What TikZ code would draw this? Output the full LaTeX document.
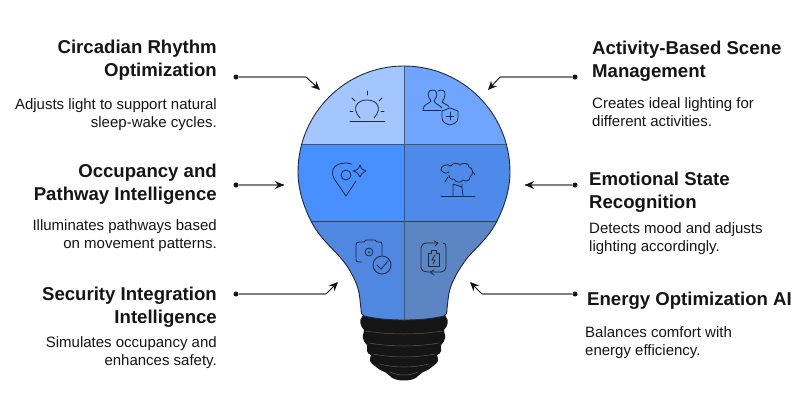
\documentclass[tikz,border=0pt]{standalone}
\usepackage{fontspec}
\setmainfont{Liberation Sans}
\usepackage{tikz}
\usetikzlibrary{arrows.meta,positioning,calc}
\definecolor{inkc}{HTML}{1F2937}
\definecolor{basec}{HTML}{151515}
\definecolor{wirec}{HTML}{808080}
\tikzset{
  headl/.style={align=right,anchor=north east,font=\fontsize{18.6}{23}\selectfont\bfseries,inner sep=0pt,text=basec},
  headr/.style={align=left,anchor=north west,font=\fontsize{18.6}{23}\selectfont\bfseries,inner sep=0pt,text=basec},
  descl/.style={align=right,anchor=north east,font=\fontsize{15}{17.5}\selectfont,inner sep=0pt,text=basec},
  descr/.style={align=left,anchor=north west,font=\fontsize{15}{17.5}\selectfont,inner sep=0pt,text=basec},
  pin/.style={circle,fill=basec,inner sep=0pt,minimum size=5pt},
  wire/.style={draw=wirec,line width=1.1pt},
  tip/.style={-{Stealth[length=9pt,width=8pt]},draw=basec,line width=1pt},
  icon/.style={draw=inkc,line width=0.8pt,line cap=round,line join=round}
}
\begin{document}
\begin{tikzpicture}[x=1pt,y=-1pt]
  \useasboundingbox (0,0) rectangle (811,405);
  \def\bulbpath{(404,66) arc[start angle=-90,end angle=0,radius=106]
     .. controls (510,190) and (504,207) .. (497,221)
     .. controls (489,237) and (477,247) .. (468,257)
     .. controls (458,270) and (449,285) .. (448,300)
     -- (447,309) .. controls (447,313) and (446,315) .. (444,316)
     .. controls (432,319) and (418,320) .. (404,320)
     .. controls (390,320) and (376,319) .. (364,316)
     .. controls (362,315) and (361,313) .. (361,309)
     -- (360,300) .. controls (359,285) and (351,270) .. (340,257)
     .. controls (331,247) and (319,237) .. (311,221)
     .. controls (304,207) and (298,190) .. (298,172)
     arc[start angle=180,end angle=270,radius=106] -- cycle}
  % screw base
  \fill[basec] (364,312) -- (444,312) -- (446,317)
     .. controls (449,320) and (448,326) .. (444,330)
     .. controls (443,332) and (446,334) .. (445,338) .. controls (445,341) and (443,343) .. (441,345)
     .. controls (440,347) and (442,349) .. (441,351) .. controls (441,353) and (439,354) .. (437,355)
     .. controls (437,357) and (439,359) .. (438,361) .. controls (437,363) and (435,365) .. (433,366)
     .. controls (430,369) and (426,371) .. (423,372) .. controls (421,374) and (419,375) .. (418,376)
     .. controls (414,382) and (394,382) .. (390,376)
     .. controls (389,375) and (387,374) .. (385,372) .. controls (382,371) and (378,369) .. (375,366)
     .. controls (373,365) and (371,363) .. (370,361) .. controls (369,359) and (371,357) .. (371,355)
     .. controls (369,354) and (367,353) .. (367,351) .. controls (366,349) and (368,347) .. (367,345)
     .. controls (365,343) and (363,341) .. (363,338) .. controls (362,334) and (365,332) .. (364,330)
     .. controls (360,326) and (359,320) .. (362,317) -- cycle;
  \foreach \y/\w in {335/30,347/27,358/24,368/19,376/11}
     \draw[gray!70!black,line width=0.5pt] (404-\w*1.3,\y-4) .. controls (404-\w*0.4,\y) and (404+\w*0.4,\y) .. (404+\w*1.3,\y-4);
  % glass
  \begin{scope}
    \clip \bulbpath;
    \fill[fill={rgb,255:red,163;green,198;blue,255}] (290,60) rectangle (404,144);
    \fill[fill={rgb,255:red,111;green,165;blue,255}] (404,60) rectangle (520,144);
    \fill[fill={rgb,255:red,72;green,143;blue,255}] (290,144) rectangle (404,221);
    \fill[fill={rgb,255:red,77;green,138;blue,234}] (404,144) rectangle (520,221);
    \fill[fill={rgb,255:red,80;green,135;blue,224}] (290,221) rectangle (404,325);
    \fill[fill={rgb,255:red,92;green,133;blue,196}] (404,221) rectangle (520,325);
    \draw[inkc!80,line width=0.9pt] (290,144) -- (520,144);
    \draw[inkc!90,line width=0.9pt] (290,221) -- (520,221);
    \draw[inkc!80,line width=0.9pt] (404,60) -- (404,325);
  \end{scope}
  \draw[inkc,line width=0.9pt] \bulbpath;
  % sun
  \draw[icon] (350,121) -- (385,121);
  \draw[icon] (360,118) .. controls (351,108) and (357,100) .. (367,100) .. controls (377,100) and (383,108) .. (374,118);
  \foreach \a/\b/\c/\d in {367/95/367/91,355/101/352/98,379/101/382/98,353/111/350/111,381/111/384/111}
     \draw[icon] (\a,\b) -- (\c,\d);
  % people and shield
  \draw[icon] (423,110) -- (441,110);
  \draw[icon] (423,110) .. controls (423,104) and (429,104) .. (431,101) .. controls (427,96) and (427,90) .. (432.5,90) .. controls (438,90) and (438,96) .. (434,101) .. controls (436,105) and (440,105) .. (442,108);
  \draw[icon] (438,91) .. controls (441,89) and (446,90) .. (445,95) .. controls (445,98) and (443,100) .. (442,102) .. controls (444,105) and (448,104) .. (449,107);
  \draw[icon] (442,111) -- (450,108) -- (458,111) -- (458,118) .. controls (458,122) and (454,124) .. (450,125) .. controls (446,124) and (442,122) .. (442,118) -- cycle;
  \draw[icon] (450,112) -- (450,120) (446,116) -- (454,116);
  % map pin and sparkle
  \draw[icon] (346,196) -- (337,183) .. controls (328,172) and (333,163) .. (346,163) -- (352,164);
  \draw[icon] (346,196) -- (356,181);
  \draw[icon] (346,175) circle[radius=5];
  \draw[icon] (360,165) .. controls (361,169) and (363,170) .. (366,171) .. controls (363,172) and (361,174) .. (360,177) .. controls (359,174) and (357,172) .. (353,171) .. controls (357,170) and (359,169) .. (360,165) -- cycle;
  % sheep
  \draw[icon] (441,196) -- (475,196);
  \draw[icon] (453,196) -- (453,184) -- (462,187) -- (462,184) (462,187) -- (463,196);
  \draw[icon] (451,166) .. controls (447,163) and (440,166) .. (441,170) .. controls (443,173) and (446,174) .. (449,172);
  \draw[icon] (451,166) .. controls (453,162) and (458,163) .. (460,165) .. controls (463,162) and (469,163) .. (469,167) .. controls (473,168) and (474,174) .. (470,177) .. controls (470,181) and (466,182) .. (463,180) .. controls (460,184) and (455,182) .. (454,179) .. controls (451,180) and (449,178) .. (449,175);
  \draw[icon] (448,177) -- (445,182) (473,172) -- (475,175);
  % camera and check
  \draw[icon] (362,262) -- (359,262) .. controls (357,262) and (356,261) .. (356,260) -- (356,245) .. controls (356,243) and (357,242) .. (359,242) -- (364,242) -- (366,240) -- (375,240) -- (377,242) -- (380,242) .. controls (381,242) and (382,243) .. (382,244) -- (382,255);
  \draw[icon] (369,252) circle[radius=4];
  \fill[inkc] (369,252) circle[radius=1];
  \draw[icon] (382,265) circle[radius=9];
  \draw[icon] (377,265) -- (381,269) -- (388,261);
  % battery and arrows
  \draw[icon] (429,272) .. controls (423,272) and (421,270) .. (421,267) -- (421,248) .. controls (421,245) and (423,243) .. (427,243) -- (438,243);
  \draw[icon] (434,241) -- (438,243) -- (435,246);
  \draw[icon] (443,243) .. controls (446,243) and (446,245) .. (446,248) -- (446,267) .. controls (446,270) and (444,272) .. (441,272) -- (430,272);
  \draw[icon] (434,270) -- (430,272) -- (434,275);
  \draw[icon] (428,253) -- (431,253) -- (431,250) -- (436,250) -- (436,253) -- (439,253) -- (439,266) -- (428,266) -- cycle;
  \draw[icon] (435,255) -- (432,260) -- (435,260) -- (433,264);
  % left column
  \node[headl] (circadianhead) at (217,40) {Circadian Rhythm\\Optimization};
  \node[descl,below=18pt of circadianhead.south east,anchor=north east] (circadiandesc) {Adjusts light to support natural\\sleep-wake cycles.};
  \node[headl] (occupancyhead) at (217,164) {Occupancy and\\Pathway Intelligence};
  \node[descl,below=15pt of occupancyhead.south east,anchor=north east] (occupancydesc) {Illuminates pathways based\\on movement patterns.};
  \node[headl] (securityhead) at (217,287) {Security Integration\\Intelligence};
  \node[descl,below=9pt of securityhead.south east,anchor=north east] (securitydesc) {Simulates occupancy and\\enhances safety.};
  % right column
  \node[headr] (activityhead) at (592,41) {Activity-Based Scene\\Management};
  \node[descr,below=16pt of activityhead.south west,anchor=north west] (activitydesc) {Creates ideal lighting for\\different activities.};
  \node[headr] (emotionalhead) at (589,172) {Emotional State\\Recognition};
  \node[descr,below=10pt of emotionalhead.south west,anchor=north west] (emotionaldesc) {Detects mood and adjusts\\lighting accordingly.};
  \node[headr] (energyhead) at (587,292) {Energy Optimization AI};
  \node[descr,below=17pt of energyhead.south west,anchor=north west,xshift=-2pt] (energydesc) {Balances comfort with\\energy efficiency.};
  % connectors
  \node[pin] (circadianpin) at (236,77) {};
  \node[pin] (occupancypin) at (236,185) {};
  \node[pin] (securitypin) at (236,294) {};
  \node[pin] (activitypin) at (575,77) {};
  \node[pin] (emotionalpin) at (575,185) {};
  \node[pin] (energypin) at (575,294) {};
  \coordinate (circadianbend) at (306,77);
  \coordinate (circadianend) at (320,90);
  \coordinate (occupancyend) at (284,185);
  \coordinate (securitybend) at (326,294);
  \coordinate (securityend) at (338,282);
  \coordinate (activitybend) at (500,77);
  \coordinate (activityend) at (488,90);
  \coordinate (emotionalend) at (525,185);
  \coordinate (energybend) at (482,294);
  \coordinate (energyend) at (470,282);
  \foreach \a/\b in {circadianpin/circadianbend,securitypin/securitybend,activitypin/activitybend,energypin/energybend,occupancypin/occupancyend,emotionalpin/emotionalend}
     \draw[wire] (\a) -- (\b);
  \foreach \a/\b in {circadianbend/circadianend,securitybend/securityend,activitybend/activityend,energybend/energyend}
     \draw[tip] (\a) -- (\b);
  \draw[tip] ($(occupancyend)+(-4,0)$) -- (occupancyend);
  \draw[tip] ($(emotionalend)+(4,0)$) -- (emotionalend);
\end{tikzpicture}
\end{document}
